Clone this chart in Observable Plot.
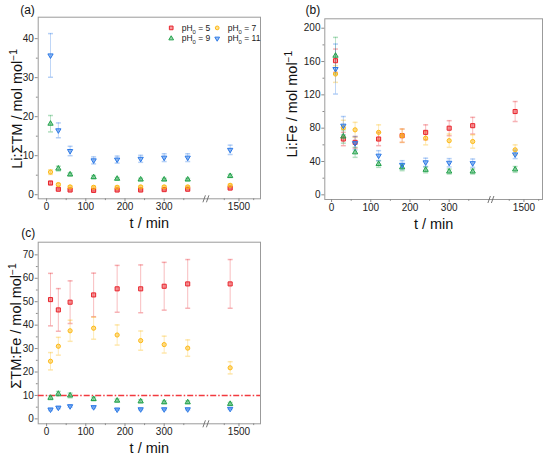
<!DOCTYPE html>
<html>
<head>
<meta charset="utf-8">
<script src="https://cdn.jsdelivr.net/npm/d3@7"></script>
<script src="https://cdn.jsdelivr.net/npm/@observablehq/plot@0.6"></script>
<style>
html,body{margin:0;padding:0;background:#fff;}
#wrap{position:relative;width:550px;height:457px;overflow:hidden;background:#fff;}
</style>
</head>
<body>
<div id="wrap"></div>
<script>
// ---------------- data ----------------
const times = [10, 30, 60, 120, 180, 240, 300, 360, 1440];
const seriesNames = ["pH_{0} = 5", "pH_{0} = 7", "pH_{0} = 9", "pH_{0} = 11"];
const seriesColors = ["#e8232b", "#fdb913", "#22a24b", "#2a78e6"];
const xTicks = [0, 100, 200, 300, 1500];
const xMinorTicks = [50, 150, 250, 350, 1400, 1600];

// (a) Li:ΣTM
const liTM_pH5 = [3.0, 1.4, 1.2, 1.1, 1.2, 1.2, 1.3, 1.4, 1.7];
const liTM_pH5_err = [0.4, 0.2, 0.2, 0.2, 0.2, 0.2, 0.2, 0.2, 0.2];
const liTM_pH7 = [5.8, 2.6, 2.0, 1.9, 1.9, 2.0, 2.0, 2.0, 2.4];
const liTM_pH7_err = [0.6, 0.3, 0.3, 0.3, 0.3, 0.3, 0.3, 0.3, 0.3];
const liTM_pH9 = [18.2, 6.7, 5.2, 4.5, 4.1, 3.9, 3.9, 3.9, 4.8];
const liTM_pH9_err = [2.1, 0.6, 0.4, 0.4, 0.3, 0.3, 0.3, 0.3, 0.4];
const liTM_pH11 = [35.7, 16.5, 11.2, 8.8, 9.0, 9.2, 9.5, 9.5, 11.5];
const liTM_pH11_err = [5.6, 1.9, 1.2, 0.9, 0.9, 0.9, 1.0, 1.0, 1.2];
const liTM_yTicks = [0, 10, 20, 30, 40];
const liTM_yMinor = [5, 15, 25, 35];

// (b) Li:Fe
const liFe_pH5 = [161, 67, 63, 67, 71, 75, 80, 83, 100];
const liFe_pH5_err = [14, 8, 7, 8, 8, 9, 9, 10, 12];
const liFe_pH7 = [145, 80.5, 78, 75, 71, 68, 65, 64, 54];
const liFe_pH7_err = [10, 9, 9, 9, 8, 8, 8, 8, 6];
const liFe_pH9 = [167, 70, 51, 37, 33, 30, 28, 28, 30.5];
const liFe_pH9_err = [22, 8, 6, 4, 4, 3.5, 3, 3, 3.5];
const liFe_pH11 = [151, 83, 62, 47, 36, 39, 38.5, 38, 48.5];
const liFe_pH11_err = [30, 11, 8, 6, 5, 5, 5, 5, 5];
const liFe_yTicks = [0, 40, 80, 120, 160, 200];
const liFe_yMinor = [20, 60, 100, 140, 180];

// (c) ΣTM:Fe
const tmFe_pH5 = [50.9, 46.5, 49.8, 52.9, 55.5, 55.5, 56.6, 57.6, 57.6];
const tmFe_pH5_err = [11.2, 9.1, 9.1, 9.3, 10, 10.2, 10.2, 10.4, 10.4];
const tmFe_pH7 = [24.6, 31.0, 37.6, 38.7, 35.8, 33.4, 31.7, 30.2, 21.8];
const tmFe_pH7_err = [3.7, 3.8, 4.5, 4.7, 4.3, 4.1, 3.6, 3.5, 2.6];
const tmFe_pH9 = [9.0, 10.7, 10.0, 8.5, 7.8, 7.5, 7.1, 7.1, 6.4];
const tmFe_pH9_err = [0.8, 1.0, 1.0, 0.8, 0.7, 0.7, 0.6, 0.6, 0.6];
const tmFe_pH11 = [4.0, 4.8, 5.4, 5.0, 4.0, 4.1, 4.1, 4.1, 4.3];
const tmFe_pH11_err = [0.4, 0.4, 0.4, 0.4, 0.3, 0.3, 0.3, 0.3, 0.3];
const tmFe_yTicks = [0, 10, 20, 30, 40, 50, 60, 70];
const tmFe_yMinor = [5, 15, 25, 35, 45, 55, 65];
const tmFe_refLine = [10];

// ---------------- helpers ----------------
const FONT = "Arial, 'Liberation Sans', Helvetica, sans-serif";
const SQ3 = Math.sqrt(3);
const capSym = {draw(c, s) { const w = Math.sqrt(s) / 2; c.moveTo(-w, 0); c.lineTo(w, 0); }};
const downTri = {draw(c, s) {
  const y = -Math.sqrt(s / (SQ3 * 3));
  c.moveTo(0, -y * 2); c.lineTo(-SQ3 * y, y); c.lineTo(SQ3 * y, y); c.closePath();
}};
const breakSym = {draw(c) { c.moveTo(-4, 3.5); c.lineTo(-1.5, -3.5); c.moveTo(-0.5, 3.5); c.lineTo(2, -3.5); }};
const symbols = ["square", "circle", "triangle", downTri];
const symR = [2.3, 2.1, 1.95, 1.95];

// broken time axis -> display units
const SEG2_ANCHOR = 1500, SEG2_POS = 490.8, SEG2_SCALE = 0.375, BREAK_POS = 409;
const tx = t => t < 1000 ? t : SEG2_POS + (t - SEG2_ANCHOR) * SEG2_SCALE;
const xTickPos = xTicks.map(tx);

function richText(svg) {
  svg.querySelectorAll("text").forEach(el => {
    const s = el.textContent;
    if (!/[\^_]\{/.test(s)) return;
    const parts = s.split(/([\^_]\{[^}]*\})/);
    while (el.firstChild) el.removeChild(el.firstChild);
    for (const p of parts) {
      if (!p) continue;
      const ts = document.createElementNS("http://www.w3.org/2000/svg", "tspan");
      const m = p.match(/^([\^_])\{(.*)\}$/);
      if (m) {
        ts.textContent = m[2];
        ts.setAttribute("baseline-shift", m[1] === "^" ? "super" : "sub");
        ts.setAttribute("font-size", "70%");
      } else ts.textContent = p;
      el.appendChild(ts);
    }
  });
}

function panel(cfg) {
  const marks = [Plot.frame({stroke: "#9b9b9b", strokeWidth: 1})];
  if (cfg.refLine) {
    marks.push(Plot.ruleY(cfg.refLine, {y: d => d, stroke: "#f23a3f", strokeOpacity: 1, strokeWidth: 1.4, strokeDasharray: "6,2,1.5,2"}));
  }
  cfg.values.forEach((vals, si) => {
    const rows = times.map((t, i) => ({t, v: vals[i], e: cfg.errors[si][i]}));
    const col = seriesColors[si];
    const X = d => tx(d.t);
    marks.push(Plot.ruleX(rows, {x: X, y1: d => d.v - d.e, y2: d => d.v + d.e, stroke: col, strokeOpacity: 0.3, strokeWidth: 1}));
    marks.push(Plot.dot(rows, {x: X, y: d => d.v + d.e, symbol: capSym, r: 2.8, stroke: col, strokeOpacity: 0.35, fill: "none"}));
    marks.push(Plot.dot(rows, {x: X, y: d => d.v - d.e, symbol: capSym, r: 2.8, stroke: col, strokeOpacity: 0.35, fill: "none"}));
  });
  cfg.values.forEach((vals, si) => {
    const rows = times.map((t, i) => ({t, v: vals[i]}));
    const col = seriesColors[si];
    marks.push(Plot.dot(rows, {x: d => tx(d.t), y: "v", symbol: symbols[si], r: symR[si], fill: col, fillOpacity: 0.45, stroke: col, strokeWidth: 1}));
  });
  marks.push(
    Plot.axisY({ticks: cfg.yTicks, tickSize: 3, tickPadding: 1.3, stroke: "#8a8a8a", fill: "#222", label: null}),
    Plot.axisY({ticks: cfg.yMinor, tickSize: 1.8, tickFormat: () => "", stroke: "#8a8a8a", label: null}),
    Plot.axisX({ticks: xTickPos, tickSize: 3, tickPadding: 1,
      tickFormat: d => { const i = xTickPos.indexOf(d); return i >= 0 ? String(xTicks[i]) : ""; },
      stroke: "#8a8a8a", fill: "#222", label: null}),
    Plot.axisX({ticks: xMinorTicks.map(tx), tickSize: 1.8, tickFormat: () => "", stroke: "#8a8a8a", label: null}),
    Plot.dot([BREAK_POS], {x: d => d, frameAnchor: "bottom", symbol: breakSym, r: 3, stroke: "#666", fill: "none", strokeWidth: 0.9}),
    Plot.text([cfg.ylabel], {text: d => d, frameAnchor: "left", textAnchor: "middle", lineAnchor: "middle",
      dx: cfg.ylabelDx, dy: cfg.ylabelDy, rotate: -90, fontSize: 14.5, fill: "#111"}),
    Plot.text(["t / min"], {text: d => d, frameAnchor: "bottom", textAnchor: "middle", lineAnchor: "middle",
      dy: 24.4, fontSize: 14.5, fill: "#111"}),
    Plot.text([cfg.letter], {text: d => d, frameAnchor: "top-left", dx: cfg.letterDx, dy: cfg.letterDy,
      textAnchor: "start", lineAnchor: "middle", fontSize: 12, fill: "#111"})
  );
  if (cfg.legend) {
    seriesNames.forEach((name, si) => {
      const c = si % 2, r = Math.floor(si / 2);
      const mdx = c ? -43.3 : -89.3, mdy = r ? 21.3 : 10.7;
      marks.push(Plot.dot([0], {frameAnchor: "top-right", dx: mdx, dy: mdy, symbol: symbols[si], r: symR[si] * 0.9,
        fill: seriesColors[si], fillOpacity: 0.45, stroke: seriesColors[si], strokeWidth: 1}));
      marks.push(Plot.text([name], {text: d => d, frameAnchor: "top-right", dx: mdx + 10.5, dy: mdy,
        textAnchor: "start", lineAnchor: "middle", fontSize: 8.5, fill: "#222"}));
    });
  }
  const svg = Plot.plot({
    width: cfg.width, height: cfg.height,
    marginLeft: cfg.ml, marginRight: cfg.mr, marginTop: cfg.mt, marginBottom: cfg.mb,
    x: {type: "linear", domain: cfg.xDomain, label: null},
    y: {type: "linear", domain: cfg.yDomain, label: null},
    style: {background: "transparent", overflow: "visible", fontFamily: FONT, fontSize: "10px", color: "#222"},
    marks
  });
  richText(svg);
  svg.style.position = "absolute";
  svg.style.left = cfg.left + "px";
  svg.style.top = cfg.top + "px";
  document.getElementById("wrap").appendChild(svg);
}

panel({
  left: 0, top: 0, width: 275, height: 228, ml: 37.7, mr: 15, mt: 16.7, mb: 29.7,
  xDomain: [-21.4, 545.7], yDomain: [-1.05, 45.5],
  values: [liTM_pH5, liTM_pH7, liTM_pH9, liTM_pH11],
  errors: [liTM_pH5_err, liTM_pH7_err, liTM_pH9_err, liTM_pH11_err],
  yTicks: liTM_yTicks, yMinor: liTM_yMinor,
  ylabel: "Li:ΣTM / mol mol^{−1}", ylabelDx: -21, ylabelDy: 1,
  letter: "(a)", letterDx: -18, letterDy: -7, legend: true
});
panel({
  left: 275, top: 0, width: 275, height: 228, ml: 49.3, mr: 8, mt: 18.3, mb: 29,
  xDomain: [-17.3, 538.1], yDomain: [-5.6, 211.3],
  values: [liFe_pH5, liFe_pH7, liFe_pH9, liFe_pH11],
  errors: [liFe_pH5_err, liFe_pH7_err, liFe_pH9_err, liFe_pH11_err],
  yTicks: liFe_yTicks, yMinor: liFe_yMinor,
  ylabel: "Li:Fe / mol mol^{−1}", ylabelDx: -32, ylabelDy: -5,
  letter: "(b)", letterDx: -19.3, letterDy: -8.3
});
panel({
  left: 0, top: 228, width: 275, height: 229, ml: 37.7, mr: 15, mt: 13.7, mb: 33.7,
  xDomain: [-21.4, 545.7], yDomain: [-2.1, 75.4],
  values: [tmFe_pH5, tmFe_pH7, tmFe_pH9, tmFe_pH11],
  errors: [tmFe_pH5_err, tmFe_pH7_err, tmFe_pH9_err, tmFe_pH11_err],
  yTicks: tmFe_yTicks, yMinor: tmFe_yMinor, refLine: tmFe_refLine,
  ylabel: "ΣTM:Fe / mol mol^{−1}", ylabelDx: -22, ylabelDy: -7,
  letter: "(c)", letterDx: -17, letterDy: -9.4
});
</script>
</body>
</html>
